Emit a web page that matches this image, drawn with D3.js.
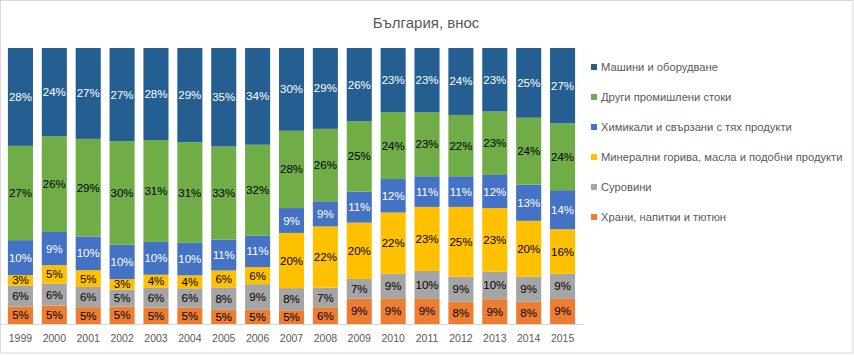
<!DOCTYPE html>
<html><head><meta charset="utf-8">
<script src="https://cdn.jsdelivr.net/npm/d3@7"></script>
<style>body{margin:0;background:#fff}svg{display:block}</style>
</head><body>
<script>
const years = ["1999","2000","2001","2002","2003","2004","2005","2006","2007","2008","2009","2010","2011","2012","2013","2014","2015"];
const food      = [5,5,5,5,5,5,5,5,5,6,9,9,9,8,9,8,9];
const raw       = [6,6,6,5,6,6,8,9,8,7,7,9,10,9,10,9,9];
const fuels     = [3,5,5,3,4,4,6,6,20,22,20,22,23,25,23,20,16];
const chemicals = [10,9,10,10,10,10,11,11,9,9,11,12,11,11,12,13,14];
const otherInd  = [27,26,29,30,31,31,33,32,28,26,25,24,23,22,23,24,24];
const machines  = [28,24,27,27,28,29,35,34,30,29,26,23,23,24,23,25,27];
const seriesNames = ["Храни, напитки и тютюн","Суровини","Минерални горива, масла и подобни продукти","Химикали и свързани с тях продукти","Други промишлени стоки","Машини и оборудване"];
const seriesData = [food, raw, fuels, chemicals, otherInd, machines];
const colors = ["#ED7D31","#A5A5A5","#FFC000","#4472C4","#70AD47","#255E91"];
const labelColors = ["#000","#000","#000","#fff","#000","#fff"];
const title = "България, внос";

const W = 854, H = 355;
const svg = d3.select("body").append("svg").attr("width", W).attr("height", H);
svg.append("rect").attr("x",0.5).attr("y",0.5).attr("width",W-1.5).attr("height",H-2.5)
  .attr("fill","#fff").attr("stroke","#D9D9D9");

svg.append("text").attr("x",426).attr("y",28).attr("text-anchor","middle")
  .attr("font-family","Liberation Sans, Arial, sans-serif").attr("font-size",15)
  .attr("fill","#595959").text(title);

const keys = seriesNames;
const rows = years.map((y,i)=>{ const o={year:y}; keys.forEach((k,j)=>o[k]=seriesData[j][i]); return o; });
const stack = d3.stack().keys(keys).offset(d3.stackOffsetExpand);
const layers = stack(rows);

const x = d3.scaleBand().domain(years).range([3.5,579.5]).paddingInner(0.26).paddingOuter(0.13);
const y = d3.scaleLinear().domain([0,1]).range([324,48]);

const g = svg.append("g");
layers.forEach((layer,j)=>{
  const lg = g.append("g");
  lg.selectAll("rect").data(layer).join("rect")
    .attr("x",d=>x(d.data.year)).attr("width",x.bandwidth())
    .attr("y",d=>y(d[1])).attr("height",d=>y(d[0])-y(d[1]))
    .attr("fill",colors[j]);
  lg.selectAll("text").data(layer).join("text")
    .attr("x",d=>x(d.data.year)+x.bandwidth()/2)
    .attr("y",d=>(y(d[0])+y(d[1]))/2)
    .attr("dy","0.35em").attr("text-anchor","middle")
    .attr("font-family","Liberation Sans, Arial, sans-serif").attr("font-size",11.5)
    .attr("fill",labelColors[j])
    .text((d,i)=>seriesData[j][i]+"%");
});

// axis
const axis = d3.axisBottom(x).tickSize(0).tickPadding(11);
const ag = svg.append("g").attr("transform","translate(0,324)").call(axis);
ag.select(".domain").attr("stroke","#D9D9D9").attr("d","M0.5,0.5H584");
ag.selectAll("text").attr("font-family","Liberation Sans, Arial, sans-serif").attr("font-size",10.5).attr("fill","#595959");

// legend (top to bottom = reverse order)
const legendItems = keys.map((k,j)=>({name:k,color:colors[j]})).reverse();
const lg = svg.append("g");
legendItems.forEach((d,i)=>{
  const yy = 67 + i*30;
  lg.append("rect").attr("x",591).attr("y",yy-3).attr("width",6).attr("height",6).attr("fill",d.color);
  lg.append("text").attr("x",601).attr("y",yy).attr("dy","0.35em")
    .attr("font-family","Liberation Sans, Arial, sans-serif").attr("font-size",11.2)
    .attr("fill","#595959").text(d.name);
});
</script>
</body></html>
